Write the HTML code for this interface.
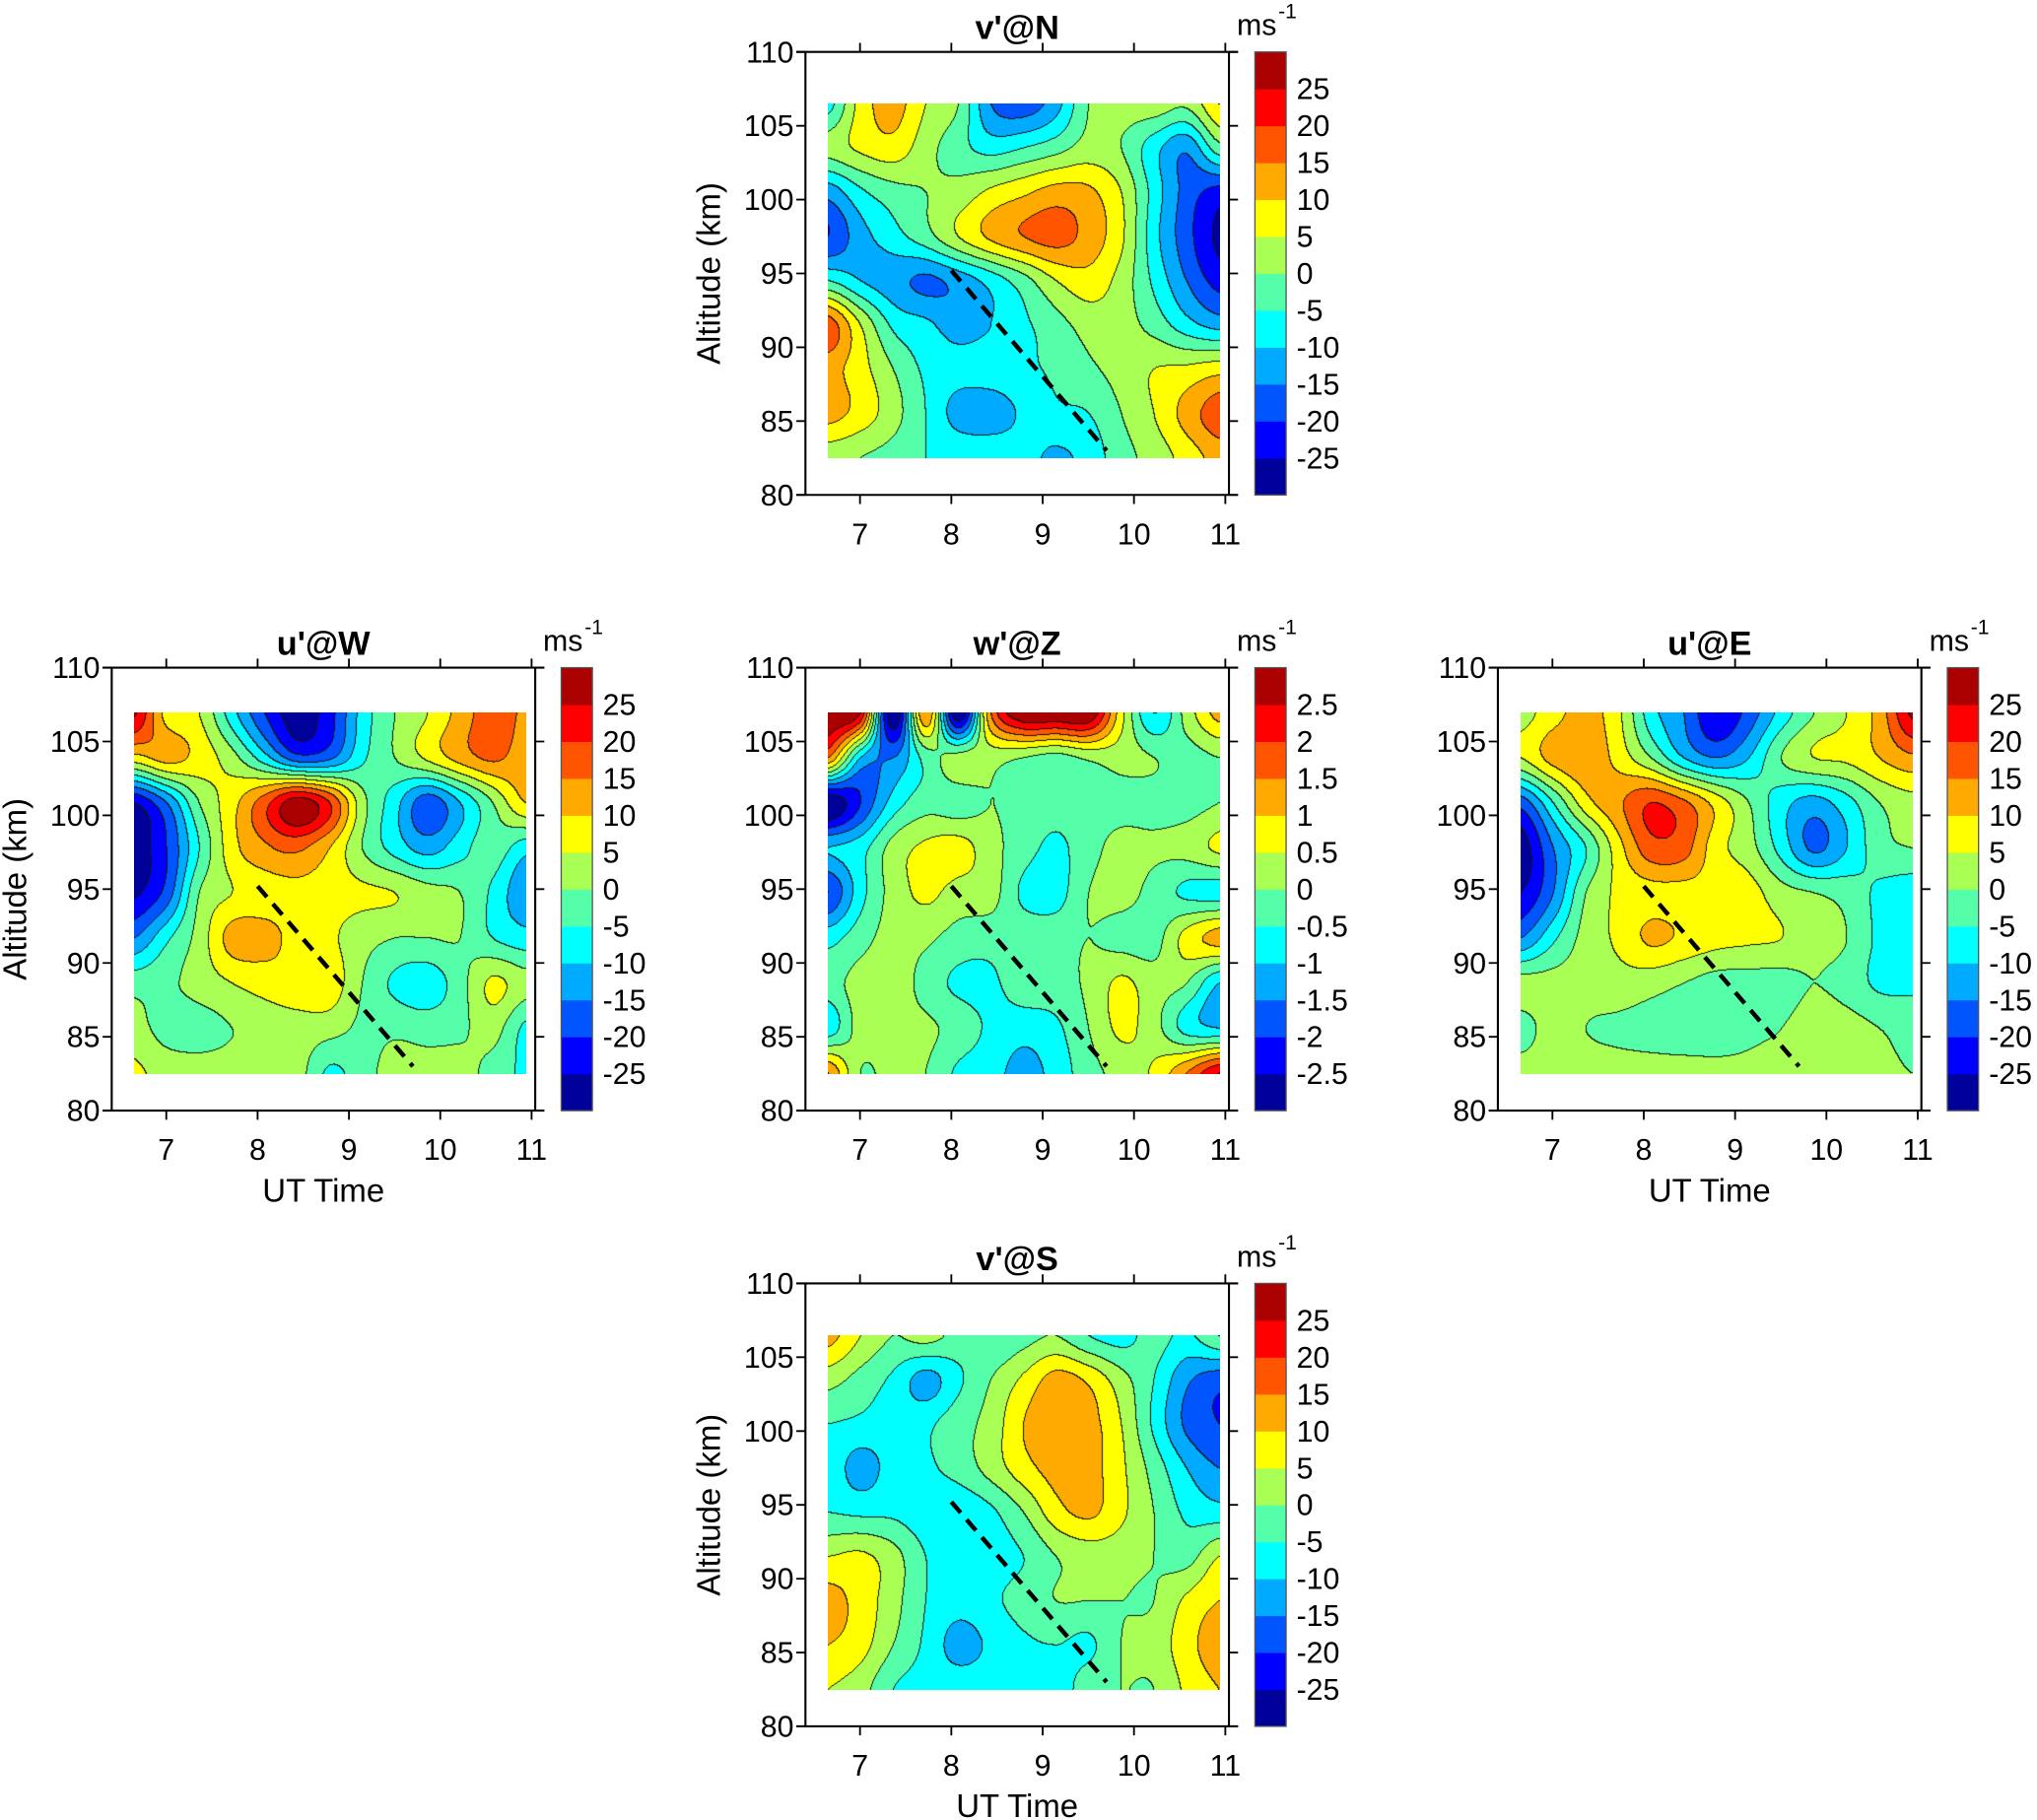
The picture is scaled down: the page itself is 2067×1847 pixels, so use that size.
<!DOCTYPE html>
<html><head><meta charset="utf-8"><style>
body{margin:0;background:#fff;}
#wrap{position:relative;width:2067px;height:1847px;overflow:hidden;background:#fff;}
canvas{position:absolute;}
svg{position:absolute;left:0;top:0;}
text{font-family:"Liberation Sans",Arial,sans-serif;fill:#000;}
</style></head><body>
<div id="wrap">
<svg id="svg" width="2067" height="1847" viewBox="0 0 1568 1401.1" preserveAspectRatio="none"></svg>
</div>
<script>
// ---- data: time columns (UT hours) and altitude rows (km), per-panel value grids ----
const timeCols = [6.65,7.01,7.37,7.72,8.08,8.44,8.80,9.15,9.51,9.87,10.23,10.59,10.95];
const altRowsNS = [106.5,103.5,100.5,97.5,94.5,91.5,88.5,85.5,82.5];
const altRowsWZE = [107,103.94,100.88,97.81,94.75,91.69,88.63,85.56,82.5];
const windLevels = [25,20,15,10,5,0,-5,-10,-15,-20,-25];
const wLevels = ['2.5','2','1.5','1','0.5','0','-0.5','-1','-1.5','-2','-2.5'];
const xTicks = [7,8,9,10,11];
const yTicks = [80,85,90,95,100,105,110];
const waveTime = [8.0, 9.7];
const waveAlt = [95.2, 83.0];

const vN = [
 [-7,7,12,5,0,-15,-18,-12,0,2,3,1,10],
 [2,6,8,2,-3,-7,-5,-2,2,0,-8,-14,-2],
 [-13,-6,-2,0,2,6,9,12,11,5,-7,-17,-22],
 [-20,-12,-7,-2,5,11,15,17,13,6,-8,-18,-26],
 [-5,-10,-13,-16,-13,-8,-2,5,8,3,-6,-15,-22],
 [18,5,-6,-9,-12,-10,-6,-2,2,2,-2,-8,-12],
 [12,7,0,-6,-8,-7,-6,-4,-1,2,5,6,8],
 [12,8,2,-5,-12,-13,-9,-6,-5,0,5,12,18],
 [2,0,-2,-5,-6,-6,-8,-11,-8,-2,2,7,12]];
const uW = [
 [26,8,5,-8,-20,-28,-22,-8,0,5,12,18,14],
 [8,12,8,2,-8,-18,-16,-6,0,6,12,16,12],
 [-25,-15,0,8,18,28,20,2,-8,-18,-10,0,10],
 [-28,-20,-5,8,14,16,10,0,-7,-12,-7,-2,-8],
 [-26,-18,0,5,7,8,7,6,5,2,0,-6,-14],
 [-15,-6,2,12,12,8,6,2,0,0,0,-5,-8],
 [-2,-1,2,5,7,8,8,0,-6,-8,-2,6,2],
 [2,-2,-2,0,2,3,2,-1,-1,-2,-1,2,-6],
 [6,3,2,2,2,2,-6,-2,2,2,2,-2,-6]];
const wZ = [
 [3,2.5,-3,1.5,-3,1.5,3,3,3,0.7,-1,0.2,1.2],
 [1.5,-1,-1.5,-0.3,0.2,0.2,0,-0.2,0.1,0.2,0,-0.2,0],
 [-3,-2,-0.8,-0.2,-0.3,0,-0.2,-0.3,-0.2,-0.2,-0.2,-0.2,0],
 [-1,-0.7,0.2,0.6,0.7,0.2,-0.3,-0.6,-0.2,0.2,0.1,0.2,0.6],
 [-2,-0.7,0.2,0.6,0.3,0.2,-0.6,-0.7,0,0.2,-0.2,-0.6,-0.7],
 [-0.7,-0.2,0.2,0.1,-0.2,-0.3,-0.2,-0.2,0,-0.2,-0.2,0.7,1.2],
 [-0.2,0.2,0.3,-0.2,-0.6,-0.6,-0.2,-0.2,0.1,0.6,0.2,0,-1],
 [-0.8,0.2,0.2,0.1,-0.2,-0.6,-0.8,-0.6,0,0.6,0.2,-0.7,-1],
 [1.5,0,0.2,0,-0.6,-0.8,-1.2,-0.8,-0.2,0.2,0.6,1.5,2.5]];
const uE = [
 [3,8,12,6,-8,-15,-25,-18,-8,0,5,12,26],
 [5,12,14,8,0,-10,-15,-10,0,5,6,10,14],
 [-18,-5,8,14,20,16,8,0,-8,-12,-7,0,3],
 [-28,-15,-5,8,18,17,7,2,-7,-16,-10,-2,0],
 [-25,-15,0,6,8,8,8,7,2,0,-2,-6,-8],
 [-15,-6,2,6,11,9,7,6,5,2,0,-6,-7],
 [2,2,2,3,2,0,-2,-2,-2,0,-2,-6,-6],
 [-2,2,0,-1,-2,-3,-2,-1,0,3,2,0,-2],
 [2,2,2,2,2,2,1,1,2,2,2,1,0]];
const vS = [
 [12,5,0,2,-2,-5,-2,0,-5,-7,-3,-6,0],
 [2,-2,-6,-12,-6,0,6,12,9,2,-5,-14,-18],
 [-5,-6,-7,-6,-2,2,10,14,12,5,-6,-16,-20],
 [-7,-12,-8,-6,-3,2,8,12,12,6,-2,-10,-15],
 [-5,-6,-6,-8,-9,-6,0,8,11,6,0,-6,-8],
 [5,6,2,-5,-8,-7,-5,0,2,2,0,-2,5],
 [12,8,2,-5,-8,-6,-3,0,0,0,0,6,10],
 [10,7,0,-6,-12,-9,-6,-5,-6,0,2,8,13],
 [5,2,-5,-7,-7,-7,-7,-8,-2,0,0,6,10]];

const COLORS = ['#00009a','#0000ff','#0055ff','#00aaff','#00ffff','#55ffaa','#aaff55','#ffff00','#ffaa00','#ff5500','#ff0000','#aa0000'];
const S = 2067/1568;
const svg = document.getElementById('svg');
const NS = 'http://www.w3.org/2000/svg';
function mk(tag, attrs){const e=document.createElementNS(NS,tag);for(const k in attrs)e.setAttribute(k,attrs[k]);svg.appendChild(e);return e;}

const panels = [
 {id:'north',title:"v'@N",L:620,T:40,grid:vN,alts:altRowsNS,vmin:-30,step:5,labels:windLevels,ylab:true,xlab:false},
 {id:'west',title:"u'@W",L:86,T:514,grid:uW,alts:altRowsWZE,vmin:-30,step:5,labels:windLevels,ylab:true,xlab:true},
 {id:'zenith',title:"w'@Z",L:620,T:514,grid:wZ,alts:altRowsWZE,vmin:-3,step:0.5,labels:wLevels,ylab:false,xlab:false},
 {id:'east',title:"u'@E",L:1153,T:514,grid:uE,alts:altRowsWZE,vmin:-30,step:5,labels:windLevels,ylab:false,xlab:true},
 {id:'south',title:"v'@S",L:620,T:988,grid:vS,alts:altRowsNS,vmin:-30,step:5,labels:windLevels,ylab:true,xlab:true}
];
const W=326, H=341, PXH=70.3;

function cr(p0,p1,p2,p3,t){return 0.5*((2*p1)+(-p0+p2)*t+(2*p0-5*p1+4*p2-p3)*t*t+(-p0+3*p1-3*p2+p3)*t*t*t);}
function sampleGrid(g,fx,fy){
 const nr=g.length,nc=g[0].length;
 const ix=Math.min(Math.floor(fx),nc-2),iy=Math.min(Math.floor(fy),nr-2);
 const tx=fx-ix,ty=fy-iy;
 const cl=(a,n)=>Math.max(0,Math.min(n-1,a));
 const rows=[];
 for(let j=-1;j<=2;j++){const r=g[cl(iy+j,nr)];
  rows.push(cr(r[cl(ix-1,nc)],r[cl(ix,nc)],r[cl(ix+1,nc)],r[cl(ix+2,nc)],tx));}
 return cr(rows[0],rows[1],rows[2],rows[3],ty);
}

panels.forEach(p=>{
 const xOf=t=>p.L+42+(t-7)*PXH;
 const yOf=a=>p.T+(110-a)*H/30;
 const t0=timeCols[0],t1=timeCols[timeCols.length-1];
 const a0=p.alts[0],a1=p.alts[p.alts.length-1];
 const dx0=xOf(t0)*S, dx1=xOf(t1)*S, dy0=yOf(a0)*S, dy1=yOf(a1)*S;
 const cw=Math.round(dx1-dx0), ch=Math.round(dy1-dy0);
 const cv=document.createElement('canvas');
 
 
 cv.width=cw;cv.height=ch;cv.style.left=Math.round(dx0)+'px';cv.style.top=Math.round(dy0)+'px';
 document.getElementById('wrap').insertBefore(cv,svg);
 const ctx=cv.getContext('2d');const img=ctx.createImageData(cw,ch);
 const idx=new Int8Array(cw*ch);
 const nc=timeCols.length,nr=p.alts.length;
 for(let y=0;y<ch;y++){const fy=y/(ch-1)*(nr-1);
  for(let x=0;x<cw;x++){const fx=x/(cw-1)*(nc-1);
   const v=sampleGrid(p.grid,fx,fy);
   let b=Math.floor((v-p.vmin)/p.step);b=Math.max(0,Math.min(11,b));idx[y*cw+x]=b;}}
 const rgb=COLORS.map(c=>[parseInt(c.substr(1,2),16),parseInt(c.substr(3,2),16),parseInt(c.substr(5,2),16)]);
 for(let y=0;y<ch;y++)for(let x=0;x<cw;x++){const i=y*cw+x;let c=rgb[idx[i]];
  const edge=(x<cw-1&&idx[i+1]!==idx[i])||(y<ch-1&&idx[i+cw]!==idx[i]);
  const o=i*4; if(edge){img.data[o]=20;img.data[o+1]=20;img.data[o+2]=20;}else{img.data[o]=c[0];img.data[o+1]=c[1];img.data[o+2]=c[2];}
  img.data[o+3]=255;}
 ctx.putImageData(img,0,0);

 const L=p.L,R=p.L+W,T=p.T,B=p.T+H,tk=7;
 const ax=mk('g',{});
 
 
 const box=mk('path',{d:`M${L-tk},${T}H${R+tk}M${L-tk},${B}H${R+tk}M${L},${T}V${B}M${R},${T}V${B}`,stroke:'#000','stroke-width':1.6,fill:'none'});
 
 
 yTicks.forEach(v=>{const y=yOf(v);
  const t=mk('path',{d:`M${L-tk},${y}H${L}M${R},${y}H${R+tk}`,stroke:'#000','stroke-width':1.4});
  
  
  const lb=mk('text',{x:L-9,y:y+8,'text-anchor':'end','font-size':23});lb.textContent=v;
  
  });
 xTicks.forEach(v=>{const x=xOf(v);
  const t=mk('path',{d:`M${x},${T-tk}V${T}M${x},${B}V${B+tk}`,stroke:'#000','stroke-width':1.4});
  
  
  const lb=mk('text',{x:x,y:B+38,'text-anchor':'middle','font-size':23});lb.textContent=v;
  
  });
 const ti=mk('text',{x:L+163,y:T-10,'text-anchor':'middle','font-size':26,'font-weight':'bold'});ti.textContent=p.title;
 
 
 if(p.ylab){const yl=mk('text',{x:0,y:0,'text-anchor':'middle','font-size':25,transform:`translate(${L-66},${T+H/2}) rotate(-90)`});yl.textContent='Altitude (km)';
  
  }
 if(p.xlab){const xl=mk('text',{x:L+163,y:B+70,'text-anchor':'middle','font-size':25});xl.textContent='UT Time';
  
  }
 const dl=mk('line',{x1:xOf(waveTime[0]),y1:yOf(waveAlt[0]),x2:xOf(waveTime[1]),y2:yOf(waveAlt[1]),stroke:'#000','stroke-width':3.4,'stroke-dasharray':'11,7'});
 
 
 const cx=L+346,cwid=24,bh=H/12;
 COLORS.forEach((c,i)=>{const r=mk('rect',{x:cx,y:B-(i+1)*bh,width:cwid,height:bh+0.4,fill:c});
  
  });
 const cf=mk('rect',{x:cx,y:T,width:cwid,height:H,fill:'none',stroke:'#555','stroke-width':1});
 
 
 p.labels.forEach((s,i)=>{const y=T+(i+1)*bh;
  const lb=mk('text',{x:cx+32,y:y+8,'font-size':23});lb.textContent=s;
  
  });
 const un=mk('text',{x:cx-14,y:T-13,'font-size':23});un.textContent='ms';
 
 
 const sup=mk('text',{x:cx+18,y:T-26,'font-size':16});sup.textContent='-1';
 
 
});
</script>
</body></html>
